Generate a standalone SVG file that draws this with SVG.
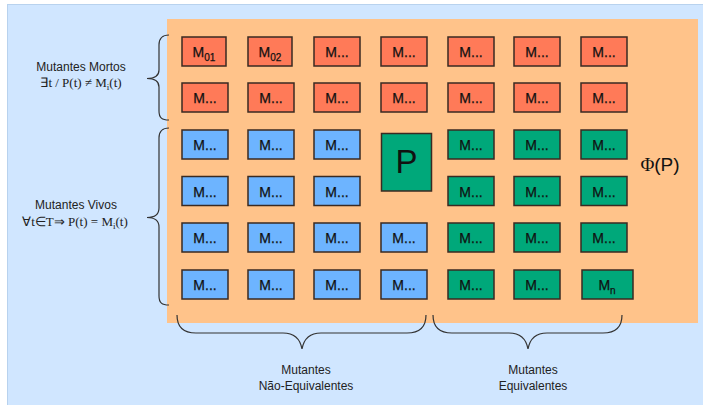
<svg xmlns="http://www.w3.org/2000/svg" width="703" height="405" viewBox="0 0 703 405">
  <style>
    .box { stroke: #3a2a22; stroke-width: 1.5; }
    .dead { fill: #FF7A58; }
    .live { fill: #6DB4FF; }
    .eq { fill: #00A87A; }
    .lbl { font-family: "Liberation Sans", Arial, sans-serif; font-size: 14px; fill: #111; text-anchor: middle; stroke: #111; stroke-width: 0.25; }
    .cap { font-family: "Liberation Sans", Arial, sans-serif; font-size: 12px; fill: #222; text-anchor: middle; }
    .math { font-family: "Liberation Serif", "Times New Roman", serif; font-size: 13px; fill: #222; text-anchor: middle; }
    .brace { fill: none; stroke: #333; stroke-width: 1.2; }
  </style>

  <!-- canvas -->
  <rect x="7.5" y="4.5" width="696" height="401" fill="#D0E6FF" stroke="#B8D2EE" stroke-width="1"/>
  <!-- program space panel -->
  <rect x="167" y="19" width="531" height="304" fill="#FFC38A"/>

  <!-- killed mutants (rows 1-2) -->
  <g id="m01"><rect class="box dead" x="182" y="37" width="44" height="29"/><text class="lbl" x="204" y="57">M<tspan font-size="10" dy="4">01</tspan></text></g>
  <g id="m02"><rect class="box dead" x="248" y="37" width="44" height="29"/><text class="lbl" x="270" y="57">M<tspan font-size="10" dy="4">02</tspan></text></g>
  <g id="m03"><rect class="box dead" x="314" y="37" width="46" height="29"/><text class="lbl" x="337" y="57">M...</text></g>
  <g id="m04"><rect class="box dead" x="381" y="37" width="46" height="29"/><text class="lbl" x="404" y="57">M...</text></g>
  <g id="m05"><rect class="box dead" x="448" y="37" width="46" height="29"/><text class="lbl" x="471" y="57">M...</text></g>
  <g id="m06"><rect class="box dead" x="514" y="37" width="46" height="29"/><text class="lbl" x="537" y="57">M...</text></g>
  <g id="m07"><rect class="box dead" x="581" y="37" width="46" height="29"/><text class="lbl" x="604" y="57">M...</text></g>

  <g id="m08"><rect class="box dead" x="182" y="83" width="46" height="29"/><text class="lbl" x="205" y="103">M...</text></g>
  <g id="m09"><rect class="box dead" x="248" y="83" width="46" height="29"/><text class="lbl" x="271" y="103">M...</text></g>
  <g id="m10"><rect class="box dead" x="314" y="83" width="46" height="29"/><text class="lbl" x="337" y="103">M...</text></g>
  <g id="m11"><rect class="box dead" x="381" y="83" width="46" height="29"/><text class="lbl" x="404" y="103">M...</text></g>
  <g id="m12"><rect class="box dead" x="448" y="83" width="46" height="29"/><text class="lbl" x="471" y="103">M...</text></g>
  <g id="m13"><rect class="box dead" x="514" y="83" width="46" height="29"/><text class="lbl" x="537" y="103">M...</text></g>
  <g id="m14"><rect class="box dead" x="581" y="83" width="46" height="29"/><text class="lbl" x="604" y="103">M...</text></g>

  <!-- live, non-equivalent mutants -->
  <g id="m15"><rect class="box live" x="182" y="130" width="46" height="29"/><text class="lbl" x="205" y="150">M...</text></g>
  <g id="m16"><rect class="box live" x="248" y="130" width="46" height="29"/><text class="lbl" x="271" y="150">M...</text></g>
  <g id="m17"><rect class="box live" x="314" y="130" width="46" height="29"/><text class="lbl" x="337" y="150">M...</text></g>
  <g id="m18"><rect class="box live" x="182" y="176.5" width="46" height="29"/><text class="lbl" x="205" y="196.5">M...</text></g>
  <g id="m19"><rect class="box live" x="248" y="176.5" width="46" height="29"/><text class="lbl" x="271" y="196.5">M...</text></g>
  <g id="m20"><rect class="box live" x="314" y="176.5" width="46" height="29"/><text class="lbl" x="337" y="196.5">M...</text></g>
  <g id="m21"><rect class="box live" x="182" y="223" width="46" height="29"/><text class="lbl" x="205" y="243">M...</text></g>
  <g id="m22"><rect class="box live" x="248" y="223" width="46" height="29"/><text class="lbl" x="271" y="243">M...</text></g>
  <g id="m23"><rect class="box live" x="314" y="223" width="46" height="29"/><text class="lbl" x="337" y="243">M...</text></g>
  <g id="m24"><rect class="box live" x="381" y="223" width="46" height="29"/><text class="lbl" x="404" y="243">M...</text></g>
  <g id="m25"><rect class="box live" x="182" y="270" width="46" height="29"/><text class="lbl" x="205" y="290">M...</text></g>
  <g id="m26"><rect class="box live" x="248" y="270" width="46" height="29"/><text class="lbl" x="271" y="290">M...</text></g>
  <g id="m27"><rect class="box live" x="314" y="270" width="46" height="29"/><text class="lbl" x="337" y="290">M...</text></g>
  <g id="m28"><rect class="box live" x="381" y="270" width="46" height="29"/><text class="lbl" x="404" y="290">M...</text></g>

  <!-- original program -->
  <g id="p"><rect class="box eq" x="381.5" y="133.5" width="50" height="57.5"/><text x="406.5" y="173" font-family="Liberation Sans, Arial, sans-serif" font-size="33" fill="#111" text-anchor="middle">P</text></g>

  <!-- equivalent mutants -->
  <g id="m29"><rect class="box eq" x="448" y="130" width="46" height="29"/><text class="lbl" x="471" y="150">M...</text></g>
  <g id="m30"><rect class="box eq" x="514" y="130" width="46" height="29"/><text class="lbl" x="537" y="150">M...</text></g>
  <g id="m31"><rect class="box eq" x="581" y="130" width="46" height="29"/><text class="lbl" x="604" y="150">M...</text></g>
  <g id="m32"><rect class="box eq" x="448" y="176.5" width="46" height="29"/><text class="lbl" x="471" y="196.5">M...</text></g>
  <g id="m33"><rect class="box eq" x="514" y="176.5" width="46" height="29"/><text class="lbl" x="537" y="196.5">M...</text></g>
  <g id="m34"><rect class="box eq" x="581" y="176.5" width="46" height="29"/><text class="lbl" x="604" y="196.5">M...</text></g>
  <g id="m35"><rect class="box eq" x="448" y="223" width="46" height="29"/><text class="lbl" x="471" y="243">M...</text></g>
  <g id="m36"><rect class="box eq" x="514" y="223" width="46" height="29"/><text class="lbl" x="537" y="243">M...</text></g>
  <g id="m37"><rect class="box eq" x="581" y="223" width="46" height="29"/><text class="lbl" x="604" y="243">M...</text></g>
  <g id="m38"><rect class="box eq" x="448" y="270" width="46" height="29"/><text class="lbl" x="471" y="290">M...</text></g>
  <g id="m39"><rect class="box eq" x="514" y="270" width="46" height="29"/><text class="lbl" x="537" y="290">M...</text></g>
  <g id="mn"><rect class="box eq" x="582" y="270" width="51" height="29"/><text class="lbl" x="607" y="290">M<tspan font-size="10" dy="4">n</tspan></text></g>

  <!-- domain label -->
  <g id="phi"><text x="660" y="171" font-family="Liberation Sans, Arial, sans-serif" font-size="19" fill="#111" text-anchor="middle"><tspan font-family="Liberation Serif, Times New Roman, serif">Φ</tspan>(P)</text></g>

  <!-- braces -->
  <g id="braces">
    <path class="brace" d="M169,35 C162,35 159,38 159,45 L159,70 C159,76 155,78.5 147,78.5 C155,78.5 159,81 159,87 L159,111 C159,118 162,120 169,120"/>
    <path class="brace" d="M169,128 C162,128 159,131 159,138 L159,208 C159,214 155,217.5 147,217.5 C155,217.5 159,221 159,227 L159,296 C159,303 162,305 169,305"/>
    <path class="brace" d="M177,315 C177,327 183,333 196,333 L283,333 C294,333 300,338 302,349 C304,338 310,333 321,333 L407,333 C420,333 426,327 426,315"/>
    <path class="brace" d="M433,315 C433,327 439,333 452,333 L509,333 C520,333 526,338 528,349 C530,338 536,333 547,333 L603,333 C616,333 622,327 622,315"/>
  </g>

  <!-- group captions -->
  <g id="dead-label">
    <text class="cap" x="81" y="71">Mutantes Mortos</text>
    <text class="math" x="81" y="87">∃t / P(t) ≠ M<tspan font-size="9" dy="3">i</tspan><tspan dy="-3">(t)</tspan></text>
  </g>
  <g id="live-label">
    <text class="cap" x="76" y="209">Mutantes Vivos</text>
    <text class="math" x="75" y="226">∀t∈T⇒ P(t) = M<tspan font-size="9" dy="3">i</tspan><tspan dy="-3">(t)</tspan></text>
  </g>
  <g id="noneq-label">
    <text class="cap" x="306" y="374">Mutantes</text>
    <text class="cap" x="306" y="390">Não-Equivalentes</text>
  </g>
  <g id="eq-label">
    <text class="cap" x="533" y="374">Mutantes</text>
    <text class="cap" x="533" y="390">Equivalentes</text>
  </g>
</svg>
